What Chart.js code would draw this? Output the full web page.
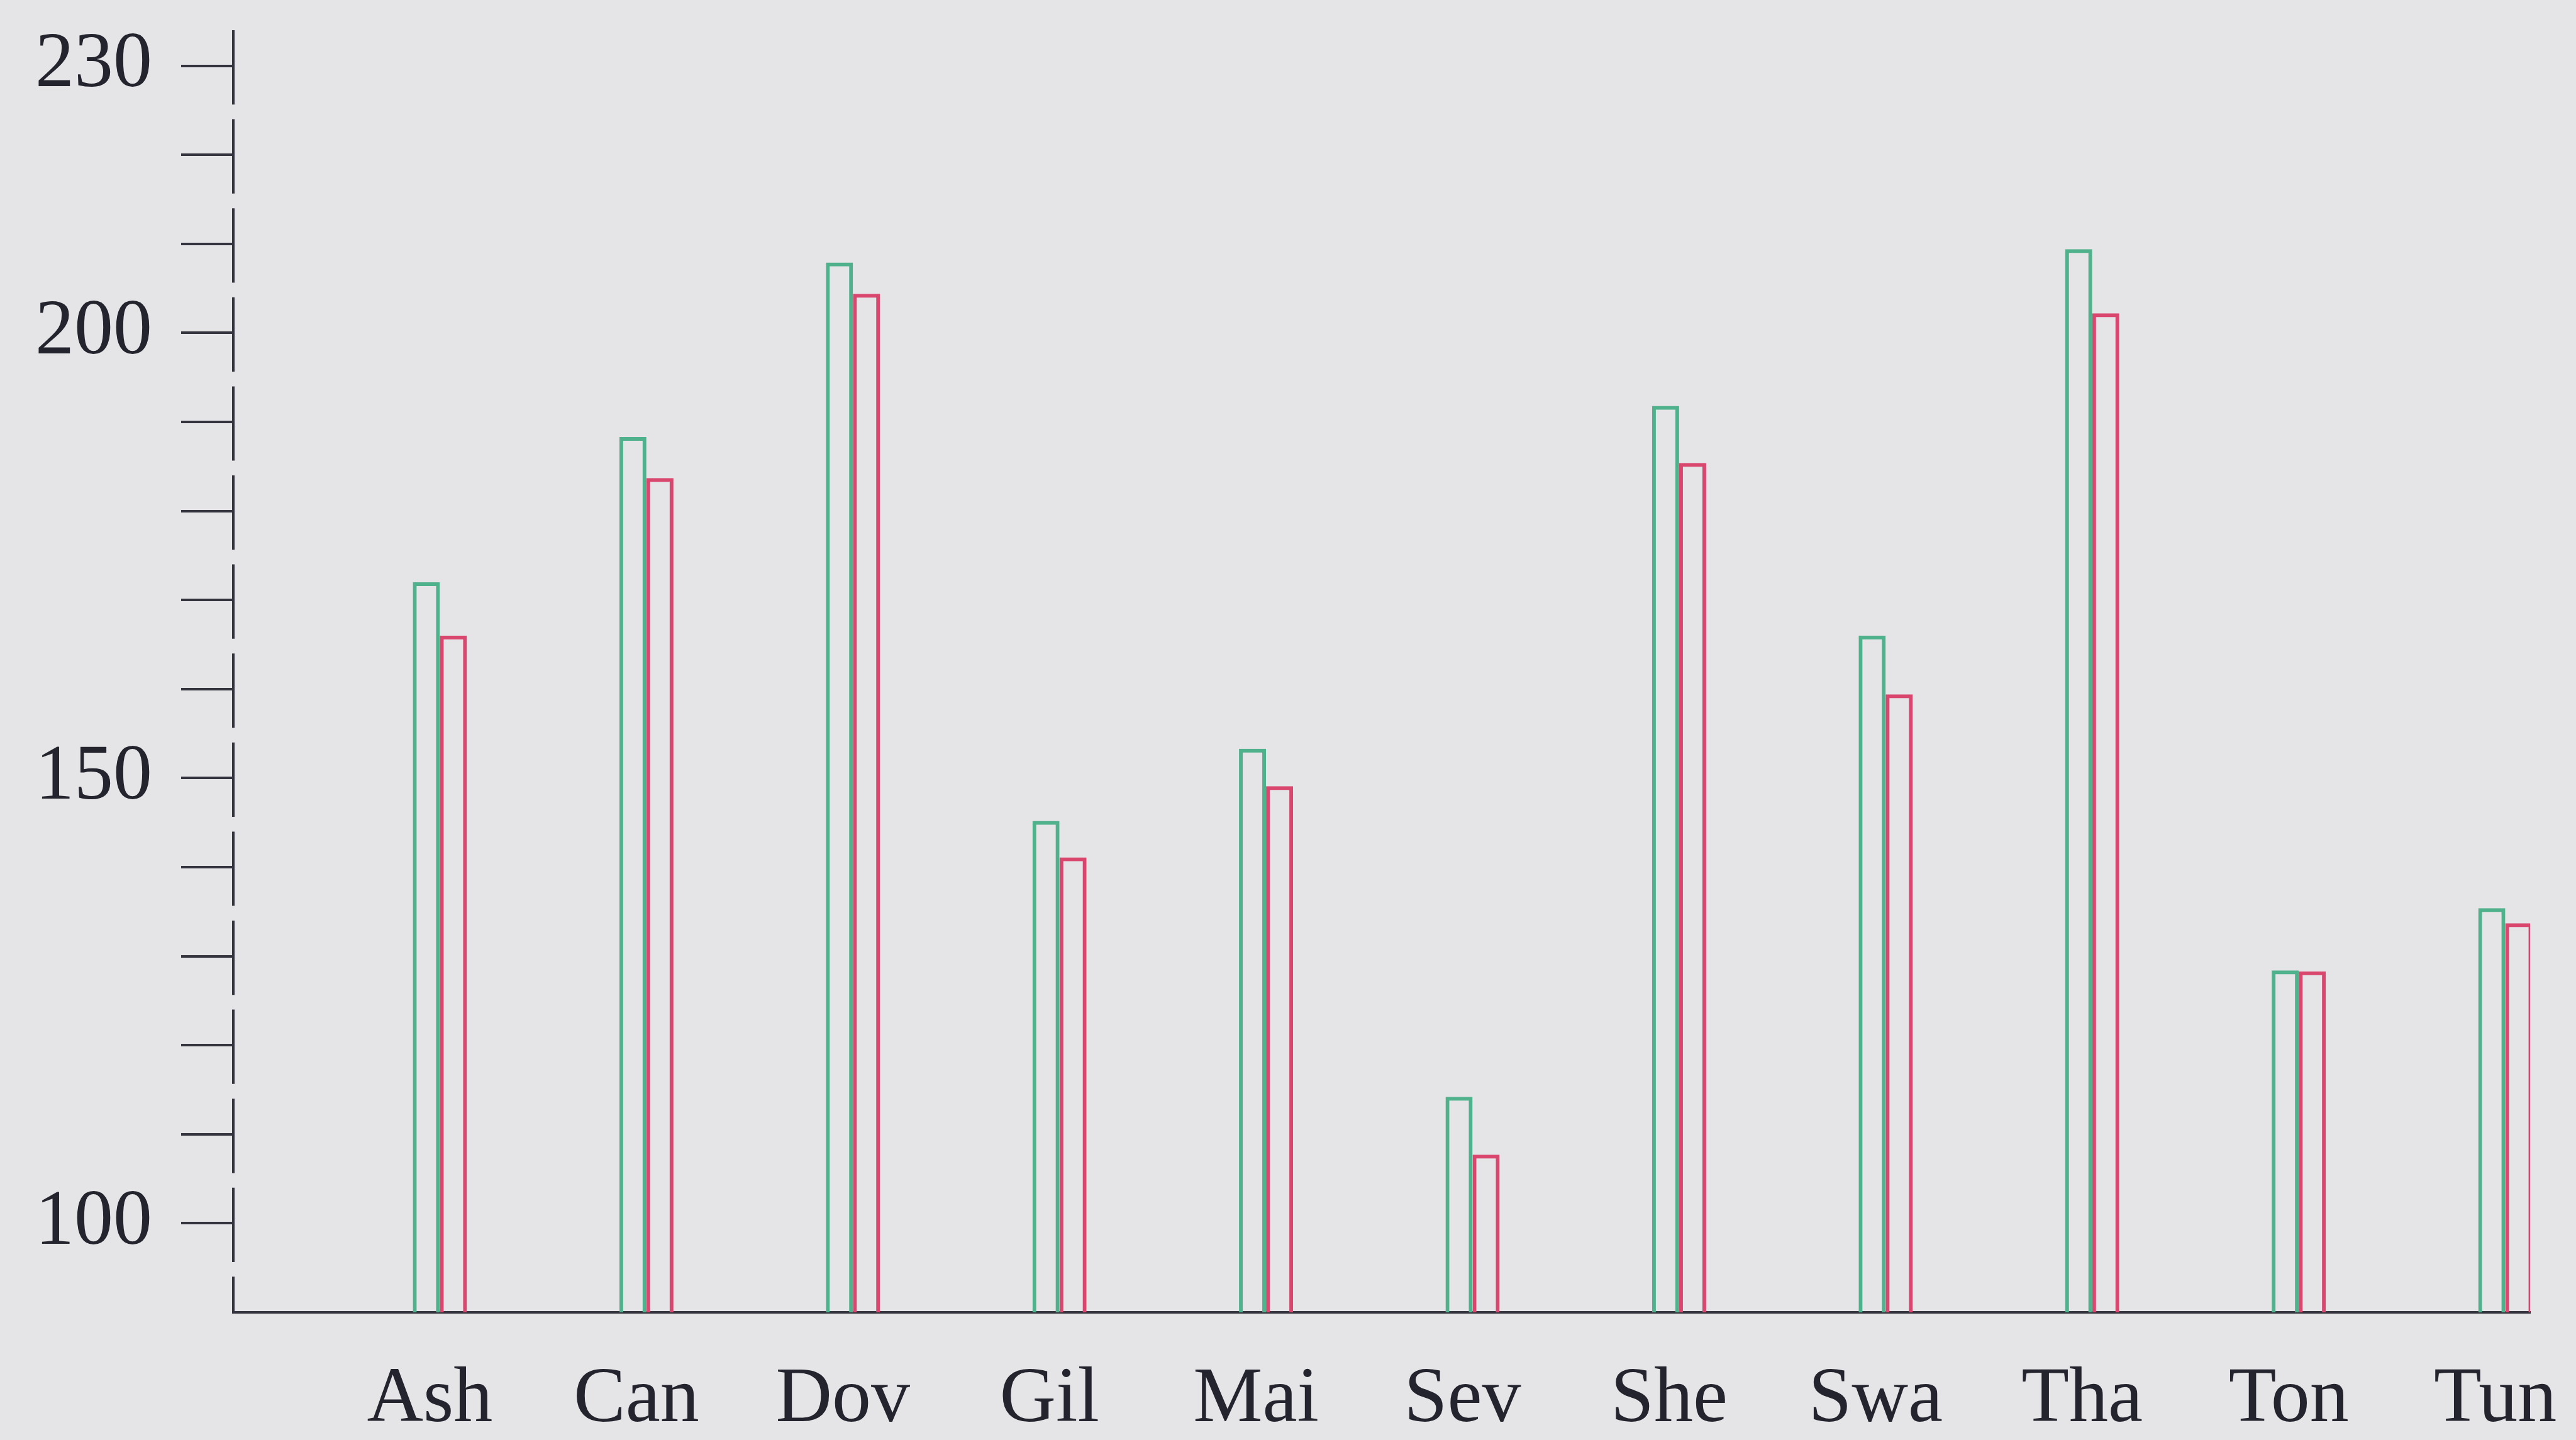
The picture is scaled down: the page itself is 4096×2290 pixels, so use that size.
<!DOCTYPE html>
<html>
<head>
<meta charset="utf-8">
<title>Bars</title>
<script src="https://cdn.jsdelivr.net/npm/chart.js@4/dist/chart.umd.min.js"></script>
<style>
  html, body { margin: 0; padding: 0; background: #e5e5e7; }
  canvas { display: block; }
</style>
</head>
<body>
<canvas id="barChart" width="4096" height="2290"></canvas>
<script>
// ===============================
// DATA
// ===============================
const categories = ["Ash", "Can", "Dov", "Gil", "Mai", "Sev", "She", "Swa", "Tha", "Ton", "Tun"];
const greenValues = [172, 188.3, 207.9, 145.2, 153.3, 114.2, 191.8, 166, 209.4, 128.4, 135.4];
const redValues = [166, 183.7, 204.4, 141.1, 149.1, 107.7, 185.4, 159.4, 202.2, 128.3, 133.7];

const yTicks = [100, 110, 120, 130, 140, 150, 160, 170, 180, 190, 200, 210, 220, 230];
const yLabelled = [100, 150, 200, 230];

// ===============================
// STYLE
// ===============================
const INK = "#34343f";
const GREEN = "#4fb28c";
const RED = "#d9466e";
const FONT = { family: "'Liberation Serif', 'DejaVu Serif', serif", size: 124 };

// ===============================
// HELPERS
// ===============================
function toPoints(values) {
  return values.map((v, i) => ({ x: i, y: v }));
}

// y axis line, broken between the ticks
const dashedAxis = {
  id: "dashedAxis",
  afterDraw(chart) {
    const y = chart.scales.y;
    const { ctx, chartArea } = chart;
    const period = Math.abs(y.getPixelForValue(220) - y.getPixelForValue(230));
    ctx.save();
    ctx.strokeStyle = INK;
    ctx.lineWidth = 4;
    ctx.setLineDash([period * 0.835, period * 0.165]);
    ctx.beginPath();
    ctx.moveTo(chartArea.left, chartArea.top);
    ctx.lineTo(chartArea.left, chartArea.bottom);
    ctx.stroke();
    ctx.restore();
  }
};

// ===============================
// CHART
// ===============================
const ctx = document.getElementById("barChart").getContext("2d");

new Chart(ctx, {
  type: "bar",
  data: {
    datasets: [
      { data: toPoints(greenValues), borderColor: GREEN },
      { data: toPoints(redValues), borderColor: RED }
    ]
  },
  options: {
    responsive: false,
    animation: false,
    events: [],
    layout: { padding: { top: 48, right: 73, left: 0, bottom: 0 } },
    datasets: {
      bar: {
        base: 90,
        backgroundColor: "rgba(0,0,0,0)",
        borderWidth: 6,
        categoryPercentage: 0.262,
        barPercentage: 1
      }
    },
    plugins: {
      legend: { display: false },
      tooltip: { enabled: false }
    },
    scales: {
      x: {
        type: "linear",
        offset: false,
        min: -1,
        max: 10.12,
        afterBuildTicks: (scale) => {
          scale.ticks = categories.map((_, i) => ({ value: i }));
        },
        afterFit: (scale) => {
          scale.height = 203;
          scale.paddingLeft = 0;
          scale.paddingRight = 0;
        },
        grid: { display: false, drawTicks: false, offset: false },
        border: { display: true, color: INK, width: 4 },
        ticks: {
          autoSkip: false,
          maxRotation: 0,
          padding: 66,
          labelOffset: -16,
          color: "#24242e",
          font: FONT,
          callback: (v) => categories[v] ?? ""
        }
      },
      y: {
        min: 90,
        max: 234,
        afterBuildTicks: (scale) => {
          scale.ticks = yTicks.map(v => ({ value: v }));
        },
        afterFit: (scale) => {
          scale.width = 371;
          scale.paddingTop = 0;
          scale.paddingBottom = 0;
        },
        grid: {
          drawOnChartArea: false,
          drawTicks: true,
          tickLength: 83,
          color: INK,
          lineWidth: 4
        },
        border: { display: false },
        ticks: {
          autoSkip: false,
          padding: 46,
          color: "#24242e",
          font: FONT,
          callback: (v) => yLabelled.includes(v) ? String(v) : ""
        }
      }
    }
  },
  plugins: [dashedAxis]
});
</script>
</body>
</html>
